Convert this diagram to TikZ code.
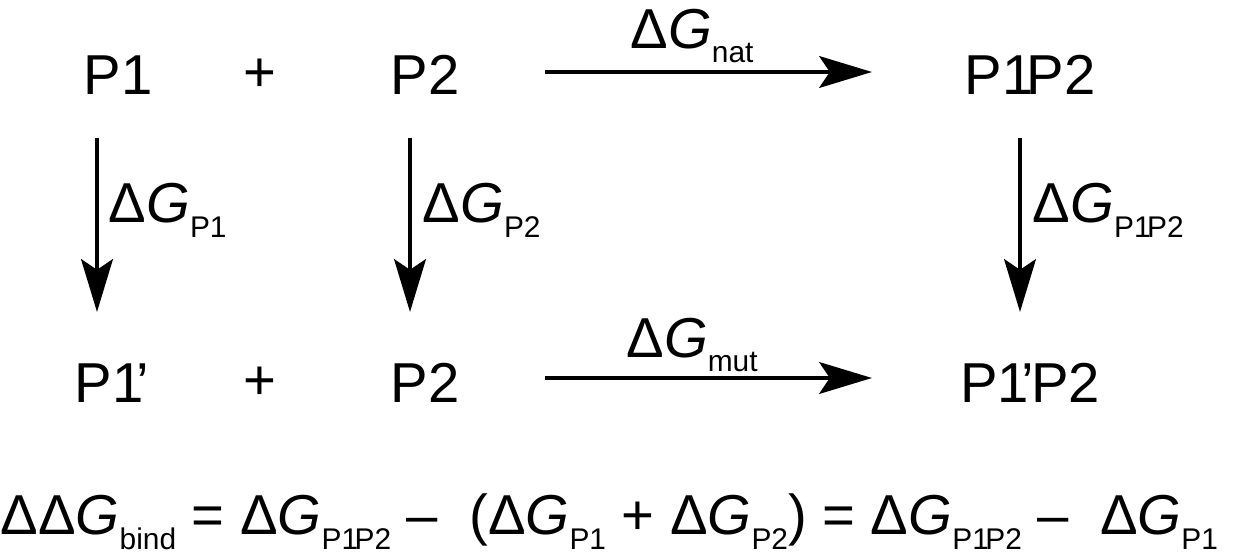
\documentclass[tikz,border=0pt]{standalone}
\usepackage{fontspec}
\setmainfont{Liberation Sans}
\usetikzlibrary{arrows.meta}
\newcommand{\mysub}[1]{\raisebox{-0.5ex}{\fontsize{8.5}{10}\selectfont #1}}
\newcommand{\dG}[1]{Δ\textit{G}\mysub{#1}}
\begin{document}
\begin{tikzpicture}[x=0.01cm,y=-0.01cm,
  lbl/.style={font=\fontsize{16}{19}\selectfont, inner sep=0pt},
  arr/.style={line width=1.3pt,-{Stealth[length=15pt,width=9pt,inset=3pt]}}]
\useasboundingbox (0,0) rectangle (1258,558);
\node[lbl] (p1) at (118,75) {P1};
\node[lbl] (pl1) at (260,75) {+};
\node[lbl] (p2) at (425,75) {P2};
\node[lbl] (p1p2) at (1030,75) {P1\kern-2ptP2};
\node[lbl] (p1m) at (112,383) {P1\kern-2pt’};
\node[lbl] (pl2) at (260,383) {+};
\node[lbl] (p2b) at (425,383) {P2};
\node[lbl] (p1mp2) at (1030,383) {P1\kern-2pt’\kern-1ptP2};
\coordinate (a1) at (545,72); \coordinate (b1) at (872,72);
\coordinate (a2) at (545,378); \coordinate (b2) at (872,378);
\draw[arr] (a1) -- (b1);
\draw[arr] (a2) -- (b2);
\node[lbl] (gnat) at (692,36) {\dG{nat}};
\node[lbl] (gmut) at (692,345) {\dG{mut}};
\coordinate (v1a) at (97,138); \coordinate (v1b) at (97,312);
\coordinate (v2a) at (410,138); \coordinate (v2b) at (410,312);
\coordinate (v3a) at (1020,138); \coordinate (v3b) at (1020,312);
\draw[arr] (v1a) -- (v1b);
\draw[arr] (v2a) -- (v2b);
\draw[arr] (v3a) -- (v3b);
\node[lbl,anchor=west] (g1) at (108,210) {\dG{P1}};
\node[lbl,anchor=west] (g2) at (422,210) {\dG{P2}};
\node[lbl,anchor=west] (g3) at (1032,210) {\dG{P1\kern-1ptP2}};
\node[lbl,anchor=west] (eq) at (0,522) {ΔΔ\textit{G}\mysub{bind} = \dG{P1\kern-1ptP2} –\ \ (\dG{P1} + \dG{P2}) = \dG{P1\kern-1ptP2} –\ \ \dG{P1}};
\end{tikzpicture}
\end{document}
